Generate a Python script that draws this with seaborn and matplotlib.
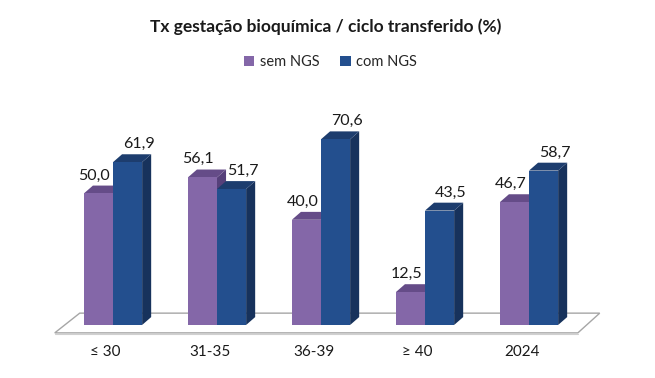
import pandas as pd
import matplotlib
matplotlib.use("Agg")
import matplotlib.pyplot as plt
from matplotlib.patches import Polygon, Patch
import seaborn as sns

# data
faixas = ["≤ 30", "31-35", "36-39", "≥ 40", "2024"]
sem_ngs = [50.0, 56.1, 40.0, 12.5, 46.7]
com_ngs = [61.9, 51.7, 70.6, 43.5, 58.7]
grupos = ["sem NGS", "com NGS"]

df = pd.DataFrame({
    "faixa": faixas * 2,
    "taxa": sem_ngs + com_ngs,
    "grupo": [grupos[0]] * len(faixas) + [grupos[1]] * len(faixas),
})

sns.set_style("white")
plt.rcParams["font.family"] = ["Lato", "DejaVu Sans"]

front = {"sem NGS": "#8467A8", "com NGS": "#234F8E"}
top = {"sem NGS": "#654C88", "com NGS": "#1D3D6E"}
side = {"sem NGS": "#56407A", "com NGS": "#17325C"}
# horizontal shift of the value labels (the blue ones sit over the box depth)
lab_shift = {"sem NGS": -0.04, "com NGS": 0.11}

fig = plt.figure(figsize=(6.55, 3.78), dpi=100)
ax = fig.add_axes([50.6 / 655, 16.2 / 378, 566.8 / 655, 286.7 / 378])

sns.barplot(data=df, x="faixa", y="taxa", hue="grupo", hue_order=grupos,
            palette=front, saturation=1, width=0.56, legend=False, ax=ax,
            edgecolor="none", zorder=3)

ax.set_xlim(-0.6, 4.85)
ax.set_ylim(-14, 95)
ax.axis("off")

# depth of the fake 3d boxes (data units)
dx, dy = 0.087, 3.0

# floor
floor = Polygon([(-0.56, -3.0), (4.47, -3.0), (4.68, 4.5), (-0.32, 4.5)],
                closed=True, facecolor="white", edgecolor="#A6A6A6", lw=1.0, zorder=1)
ax.add_patch(floor)
ax.plot([-0.56, 4.47], [-3.6, -3.6], color="#D0D0D0", lw=0.8, zorder=1)

z = 4
for cont, g in zip(ax.containers, grupos):
    for bar in cont:
        x0 = bar.get_x()
        w = bar.get_width()
        h = bar.get_height()
        x1 = x0 + w
        sd = Polygon([(x1, 0), (x1 + dx, dy), (x1 + dx, h + dy), (x1, h)],
                     closed=True, facecolor=side[g], edgecolor="none", zorder=z)
        tp = Polygon([(x0, h), (x1, h), (x1 + dx, h + dy), (x0 + dx, h + dy)],
                     closed=True, facecolor=top[g], edgecolor="none", zorder=z)
        ax.add_patch(sd)
        ax.add_patch(tp)
        bar.set_zorder(z + 0.5)
        ax.text(x0 + w / 2 + lab_shift[g], h + dy + 1.2, f"{h:.1f}".replace(".", ","),
                ha="center", va="bottom", fontsize=11.5, color="#1a1a1a", zorder=50)
        z += 1

for i, lab in enumerate(faixas):
    ax.text(i - 0.07, -10.3, lab, ha="center", va="center", fontsize=11, color="#1a1a1a")

fig.text(0.497, 1 - 27 / 378, "Tx gestação bioquímica / ciclo transferido (%)",
         ha="center", va="center", fontsize=12.5, fontweight="bold", color="#1a1a1a")

handles = [Patch(facecolor=front[g], edgecolor="none") for g in grupos]
fig.legend(handles, grupos, loc="center", bbox_to_anchor=(0.505, 1 - 62 / 378),
           ncol=2, frameon=False, fontsize=10.5, handlelength=0.7, handleheight=0.7,
           handletextpad=0.4, columnspacing=1.4)

fig.savefig("out.png", dpi=100, facecolor="white")
